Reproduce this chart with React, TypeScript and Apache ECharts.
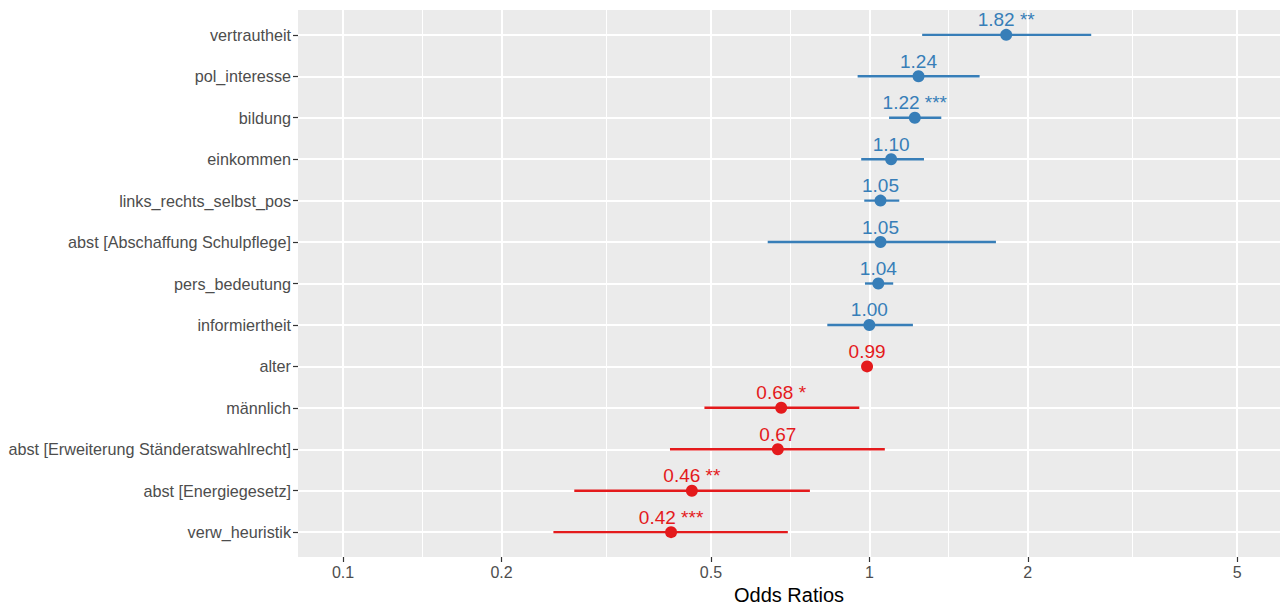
import React, { useEffect, useRef } from "react";
import * as echarts from "echarts";

const terms = [
  "vertrautheit",
  "pol_interesse",
  "bildung",
  "einkommen",
  "links_rechts_selbst_pos",
  "abst [Abschaffung Schulpflege]",
  "pers_bedeutung",
  "informiertheit",
  "alter",
  "männlich",
  "abst [Erweiterung Ständeratswahlrecht]",
  "abst [Energiegesetz]",
  "verw_heuristik",
];
const estimates = [1.82, 1.24, 1.22, 1.1, 1.05, 1.05, 1.04, 1.0, 0.99, 0.68, 0.67, 0.46, 0.42];
const lowerCI = [1.26, 0.95, 1.09, 0.965, 0.978, 0.641, 0.981, 0.832, 0.985, 0.486, 0.418, 0.275, 0.251];
const upperCI = [2.64, 1.62, 1.37, 1.27, 1.14, 1.74, 1.11, 1.21, 0.995, 0.957, 1.07, 0.771, 0.7];
const stars = ["**", "", "***", "", "", "", "", "", "", "*", "", "**", "***"];
const xTicks = [0.1, 0.2, 0.5, 1, 2, 5];
const xMinorGrid = [0.1414, 0.3162, 0.7071, 1.4142, 3.1623];

const BLUE = "#377EB8";
const RED = "#E41A1C";
const colorOf = (i: number) => (estimates[i] >= 1 ? BLUE : RED);

export default function App() {
  const ref = useRef<HTMLDivElement>(null);
  useEffect(() => {
    if (!ref.current) return;
    const chart = echarts.init(ref.current, undefined, { renderer: "svg" });
    const yIdx = terms.map((_, i) => i);
    const xMin = 0.0821;
    const xMax = 6.03;
    chart.setOption({
      animation: false,
      backgroundColor: "#ffffff",
      textStyle: { fontFamily: "Liberation Sans, Arial, sans-serif" },
      grid: {
        left: 298,
        right: 0,
        top: 10,
        bottom: 49,
        show: true,
        backgroundColor: "#EBEBEB",
        borderWidth: 0,
        containLabel: false,
        outerBoundsMode: "none",
      },
      xAxis: [
        {
          type: "log",
          logBase: 10,
          min: xMin,
          max: xMax,
          position: "bottom",
          axisLine: { show: false, onZero: false },
          axisTick: {
            show: true,
            customValues: xTicks,
            length: 5,
            lineStyle: { color: "#333333", width: 1.2 },
          },
          axisLabel: {
            customValues: xTicks,
            formatter: (v: number) => String(+(+v).toPrecision(3)),
            color: "#4D4D4D",
            fontSize: 16,
            margin: 7,
          },
          splitLine: { show: true, lineStyle: { color: "#ffffff", width: 2 } },
          minorSplitLine: { show: false },
          name: "Odds Ratios",
          nameLocation: "middle",
          nameGap: 26,
          nameTextStyle: { color: "#000000", fontSize: 20 },
        },
        {
          type: "log",
          logBase: 10,
          min: xMin,
          max: xMax,
          position: "top",
          axisLine: { show: false, onZero: false },
          axisTick: { show: false, customValues: xMinorGrid },
          axisLabel: { show: false, customValues: xMinorGrid },
          splitLine: { show: true, lineStyle: { color: "#ffffff", width: 1 } },
        },
      ],
      yAxis: {
        type: "value",
        inverse: true,
        min: -0.6,
        max: 12.6,
        axisLine: { show: false, onZero: false },
        axisTick: {
          show: true,
          customValues: yIdx,
          length: 5,
          lineStyle: { color: "#333333", width: 1.2 },
        },
        axisLabel: {
          customValues: yIdx,
          formatter: (v: number) => terms[Math.round(v)] ?? "",
          color: "#4D4D4D",
          fontSize: 16.2,
          margin: 7,
        },
        splitLine: { show: true, lineStyle: { color: "#ffffff", width: 2 } },
      },
      series: [
        {
          type: "custom",
          xAxisIndex: 0,
          z: 2,
          data: terms.map((_, i) => [lowerCI[i], upperCI[i], i]),
          encode: { x: [0, 1], y: 2 },
          renderItem: (params: any, api: any) => {
            const i = params.dataIndex;
            const p1 = api.coord([api.value(0), api.value(2)]);
            const p2 = api.coord([api.value(1), api.value(2)]);
            return {
              type: "line",
              shape: { x1: p1[0], y1: p1[1], x2: p2[0], y2: p2[1] },
              style: { stroke: colorOf(i), lineWidth: 2.4 },
            };
          },
        },
        {
          type: "scatter",
          xAxisIndex: 0,
          z: 3,
          symbol: "circle",
          symbolSize: 12,
          itemStyle: { opacity: 1 },
          emphasis: { disabled: true },
          data: terms.map((_, i) => ({
            value: [estimates[i], i],
            itemStyle: { color: colorOf(i), opacity: 1 },
            label: {
              show: true,
              position: "inside",
              offset: [0, -15],
              formatter: estimates[i].toFixed(2) + (stars[i] ? " " + stars[i] : ""),
              color: colorOf(i),
              opacity: 1,
              fontSize: 19,
            },
          })),
        },
      ],
    });
    return () => chart.dispose();
  }, []);
  return (
    <div
      ref={ref}
      style={{ position: "fixed", left: 0, top: 0, width: 1280, height: 606 }}
    />
  );
}
